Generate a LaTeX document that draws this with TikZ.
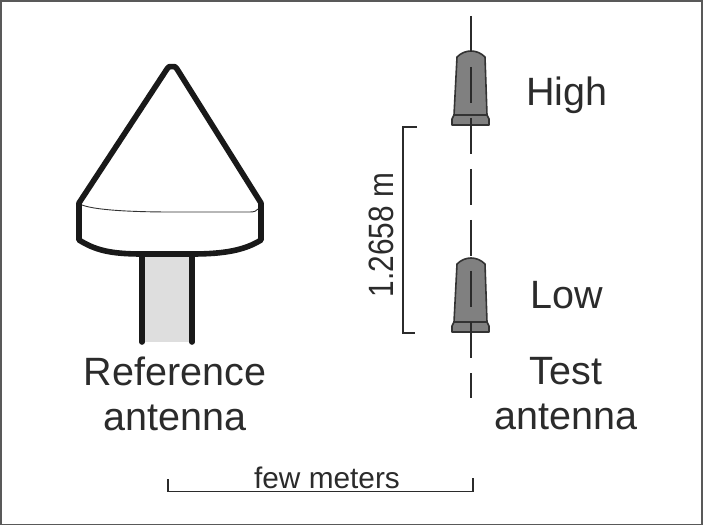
\documentclass[tikz,border=0pt]{standalone}
\usepackage{fontspec}
\setmainfont{Liberation Sans}
\usetikzlibrary{positioning}
\definecolor{inkgray}{gray}{0.17}
\tikzset{
    biglabel/.style = {inner sep=0pt, align=center, text=inkgray, font=\fontsize{39.5}{45}\selectfont},
    smalllabel/.style = {inner sep=0pt, text=inkgray, font=\fontsize{29.8}{34}\selectfont},
    bracket/.style = {draw=inkgray, line width=1.3pt},
    outline/.style = {draw=black!90, line width=5.6pt, line join=round, line cap=round},
    axisline/.style = {draw=inkgray, line width=1.1pt, dash pattern=on 36pt off 15pt},
    testant/.pic = {
        \draw[fill=black!50, draw=black!80, line width=1.6pt, line join=round]
            (-14,-58) .. controls (-10,-62) and (-5,-64) .. (0,-64)
            .. controls (5,-64) and (10,-62) .. (14,-58)
            -- (16,0) -- (-17,0) -- cycle;
        \draw[fill=black!50, draw=black!80, line width=1.6pt, line join=round]
            (-17,0) -- (16,0) -- (18,4) -- (18,10) -- (-19,10) -- (-19,4) -- cycle;
    }
}
\begin{document}
\begin{tikzpicture}[x=1pt,y=-1pt]
\useasboundingbox (0,0) rectangle (703,526);
\draw[draw=black!65, line width=1.4pt] (1,1) rectangle (702,524.5);
%
% reference antenna
\fill[black!13] (142,252) rectangle (192,342);
\draw[outline] (142,254) -- (142,342);
\draw[outline] (192,254) -- (192,342);
\draw[outline, fill=white] (79,203) -- (167,69)
    -- (169,66.7) -- (175,66.7) -- (177,69)
    -- (261,203) -- (261,240)
    .. controls (245,250) and (225,254) .. (192,254)
    -- (142,254)
    .. controls (110,254) and (95,250) .. (79,240) -- cycle;
\draw[draw=black!80, line width=0.9pt] (82,205)
    .. controls (95,210) and (130,212) .. (172,212)
    .. controls (215,212) and (240,212) .. (250,212)
    .. controls (254,212) and (257,211) .. (258,209);
%
% test antenna
\pic at (471,115) {testant};
\pic at (471,322) {testant};
\coordinate (axistop) at (471,16);
\coordinate (axisbot) at (471,398);
\draw[axisline] (axistop) -- (axisbot);
%
% labels
\node[biglabel] at (175,394) (refname) {Reference\\antenna};
\node[biglabel] at (566,394) (testname) {Test\\antenna};
\node[biglabel, anchor=base] at (567,106) (high) {High};
\node[biglabel, anchor=base] at (567,308) (low) {Low};
\node[smalllabel, anchor=base, rotate=90, yscale=1.18] at (393,235) (height) {1.2658 m};
\node[smalllabel, anchor=base] at (327,488) (few) {few meters};
%
% brackets
\coordinate (hta) at (417,127);
\coordinate (htb) at (403,127);
\coordinate (htc) at (403,333);
\coordinate (htd) at (415,333);
\draw[bracket] (hta) -- (htb) -- (htc) -- (htd);
\coordinate (fma) at (168,479);
\coordinate (fmb) at (168,491.5);
\coordinate (fmc) at (473,491.5);
\coordinate (fmd) at (473,478);
\draw[bracket] (fma) -- (fmb) -- (fmc) -- (fmd);
\end{tikzpicture}
\end{document}
